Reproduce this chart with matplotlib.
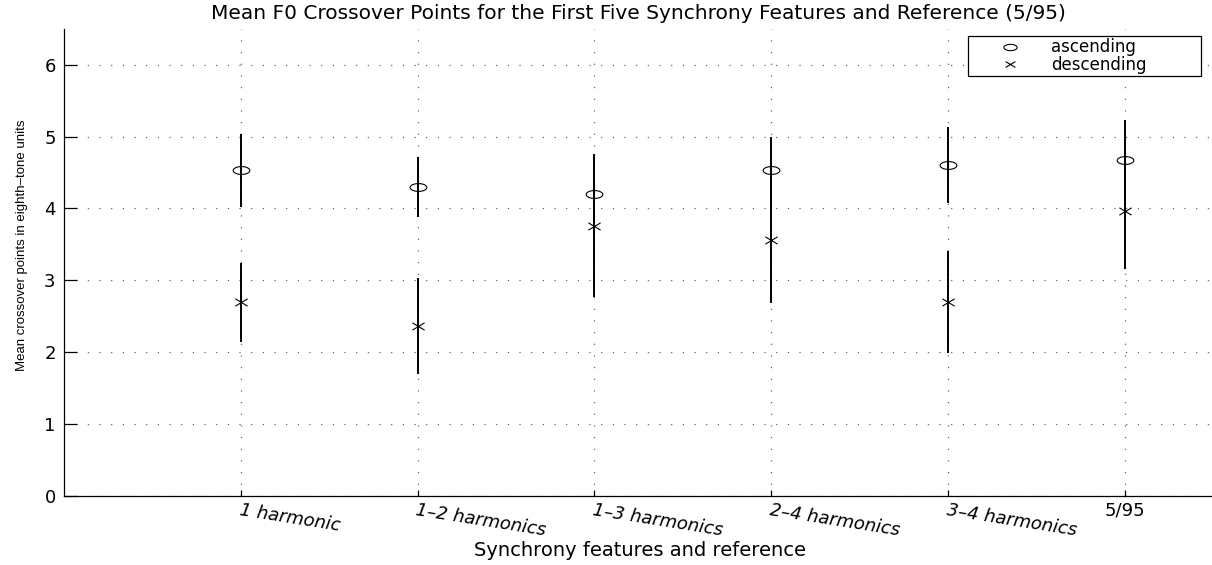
import numpy as np
import matplotlib
matplotlib.use('Agg')
import matplotlib.pyplot as plt
from matplotlib.path import Path

# Mean crossover points (eighth-tone units) and their error half-widths
features = ['1 harmonic', '1–2 harmonics', '1–3 harmonics',
            '2–4 harmonics', '3–4 harmonics', '5/95']
asc_mean = [4.53, 4.30, 4.20, 4.53, 4.60, 4.67]
asc_err = [0.51, 0.42, 0.56, 0.47, 0.53, 0.56]
desc_mean = [2.69, 2.36, 3.76, 3.56, 2.69, 3.97]
desc_err = [0.55, 0.67, 0.99, 0.88, 0.71, 0.82]
yticks = [0, 1, 2, 3, 4, 5, 6]

plt.rcParams['font.family'] = ['DejaVu Sans']
plt.rcParams['lines.scale_dashes'] = False

# wide, flat marker shapes
t = np.linspace(0, 2 * np.pi, 61)
ellipse = Path(np.column_stack([np.cos(t), 0.47 * np.sin(t)]), closed=True)
cross = Path([(-1, -0.6), (1, 0.6), (-1, 0.6), (1, -0.6)],
             [Path.MOVETO, Path.LINETO, Path.MOVETO, Path.LINETO])

fig = plt.figure(figsize=(12.12, 5.65), dpi=100)
ax = fig.add_axes([0.0528, 0.123, 0.948, 0.8257])

x = np.arange(1, len(features) + 1)

ax.errorbar(x, asc_mean, yerr=asc_err, fmt='none', ecolor='black',
            elinewidth=1.4, capsize=0, zorder=3)
ax.errorbar(x, desc_mean, yerr=desc_err, fmt='none', ecolor='black',
            elinewidth=1.4, capsize=0, zorder=3)
h_asc, = ax.plot(x, asc_mean, linestyle='none', marker=ellipse,
                 markersize=12, markerfacecolor='none',
                 markeredgecolor='black', markeredgewidth=0.8, zorder=4)
h_desc, = ax.plot(x, desc_mean, linestyle='none', marker=cross,
                  markersize=8.8, markerfacecolor='none',
                  markeredgecolor='black', markeredgewidth=0.8, zorder=4)

ax.set_xlim(0, 6.5)
ax.set_ylim(0, 6.5)
ax.set_xticks(x)
ax.set_yticks(yticks)
ax.set_yticklabels([str(v) for v in yticks], fontsize=13)

ax.set_xticklabels(features, fontsize=13)
labels = ax.get_xticklabels()
for lab in labels[:-1]:
    lab.set_rotation(-9)
    lab.set_rotation_mode('anchor')
    lab.set_ha('left')
    lab.set_va('top')
    lab.set_fontstyle('italic')
labels[-1].set_ha('center')
labels[-1].set_va('top')

ax.spines['top'].set_visible(False)
ax.spines['right'].set_visible(False)
for s in ('left', 'bottom'):
    ax.spines[s].set_linewidth(0.9)

ax.tick_params(axis='y', direction='in', length=9, width=0.9, pad=6)
ax.tick_params(axis='x', direction='in', length=4.5, width=0.9, pad=4)

ax.grid(True, color='#555555', linewidth=0.9, linestyle=(0, (0.8, 7.6)))
ax.set_axisbelow(True)

ax.set_title('Mean F0 Crossover Points for the First Five Synchrony Features '
             'and Reference (5/95)', fontsize=14.5, pad=7)
fig.text(640 / 1212, 1 - 550 / 565, 'Synchrony features and reference',
         fontsize=14, ha='center', va='center')
fig.text(22 / 1212, 1 - 245 / 565,
         'Mean crossover points in eighth–tone units',
         family='Liberation Sans', fontsize=9.5, rotation=90,
         ha='center', va='center')

leg = ax.legend([h_asc, h_desc], ['ascending', 'descending'],
                loc='upper left',
                bbox_to_anchor=(968 / 1212, 1 - 73 / 565,
                                233 / 1212, 37 / 565),
                bbox_transform=fig.transFigure, mode='expand',
                fontsize=12, frameon=True, fancybox=False, framealpha=1,
                edgecolor='black', borderpad=0.15, labelspacing=-0.05,
                handlelength=4.7, handletextpad=0.15, markerscale=0.8,
                borderaxespad=0)
leg.get_frame().set_linewidth(0.9)

fig.savefig('out.png', dpi=100)
